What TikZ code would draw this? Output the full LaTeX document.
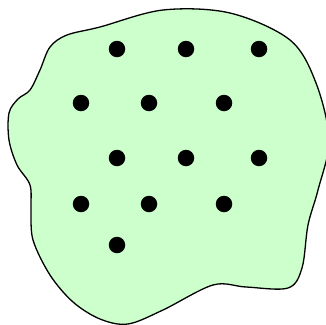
\documentclass[tikz,border=0pt]{standalone}
\begin{document}
\begin{tikzpicture}[x=1pt,y=-1pt,
  blob/.style={draw=black,line width=1.3pt,fill={rgb,255:red,204;green,255;blue,204}},
  dot/.style={circle,fill=black,inner sep=0pt,minimum size=16.5pt}]
\useasboundingbox (0,0) rectangle (326,324);
\clip (0,0) rectangle (326,324);
\draw[blob] plot[smooth cycle,tension=0.55] coordinates {
 (163,10) (230,13) (290,40) (316,83) (329,140) (318,190) (308,225) (302,268) (288,288) (246,287) (213,285) (163,310) (128,324) (100,319) (73,302) (50,275) (33,240) (31,210) (30,185) (17,165) (9,140) (9,113) (18,99) (30,90) (40,70) (50,47) (67,35) (100,27)};
\node[dot] (d1) at (117,49) {};
\node[dot] (d2) at (186,49) {};
\node[dot] (d3) at (259,49) {};
\node[dot] (d4) at (81,103) {};
\node[dot] (d5) at (149,103) {};
\node[dot] (d6) at (224,103) {};
\node[dot] (d7) at (117,158) {};
\node[dot] (d8) at (186,158) {};
\node[dot] (d9) at (259,158) {};
\node[dot] (d10) at (81,204) {};
\node[dot] (d11) at (149,204) {};
\node[dot] (d12) at (224,204) {};
\node[dot] (d13) at (117,245) {};
\end{tikzpicture}
\end{document}
